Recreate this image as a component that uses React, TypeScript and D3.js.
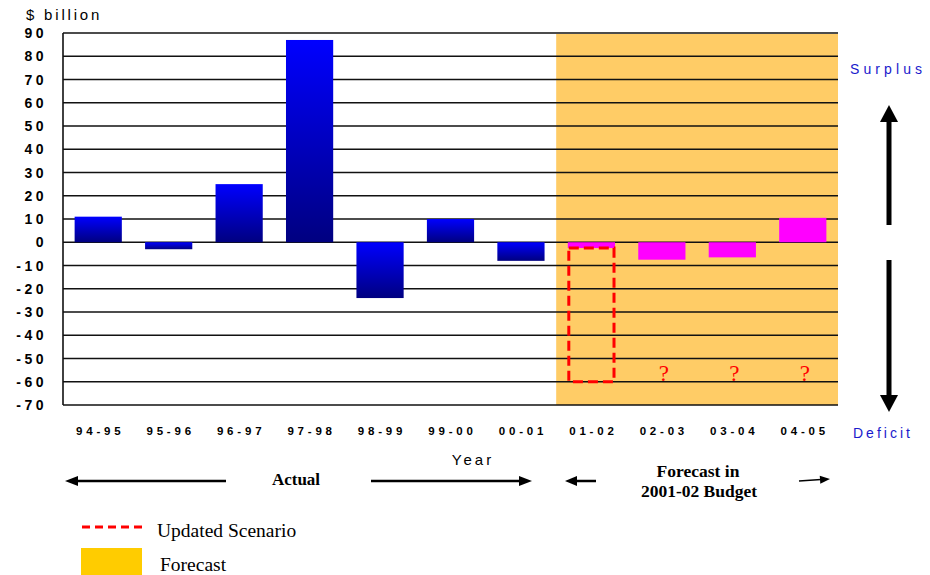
import React from 'react';
import * as d3 from 'd3';

// fiscal years shown on the x axis
const years = ['94-95', '95-96', '96-97', '97-98', '98-99', '99-00', '00-01', '01-02', '02-03', '03-04', '04-05'];
// budget balance, $ billion (actual up to 00-01, forecast afterwards)
const actualValues = [11, -3, 25, 87, -24, 10, -8];
const forecastValues = [-2.5, -7.5, -6.5, 10.5];
const forecastYears = years.slice(7);
// updated scenario for 01-02 (dashed box)
const scenarioYear = '01-02';
const scenarioRange = [-2.5, -60];
const unknownYears = ['02-03', '03-04', '04-05'];
const yTicks = [90, 80, 70, 60, 50, 40, 30, 20, 10, 0, -10, -20, -30, -40, -50, -60, -70];

const W = 930;
const H = 575;
const sans = '"Liberation Sans", Arial, sans-serif';
const serif = '"Liberation Serif", "Times New Roman", serif';

function Arrow({ x1, y1, x2, y2, sw, head, half }: { x1: number; y1: number; x2: number; y2: number; sw: number; head: number; half: number }) {
  // arrow from (x1,y1) pointing to (x2,y2)
  const ang = Math.atan2(y2 - y1, x2 - x1);
  const bx = x2 - head * Math.cos(ang);
  const by = y2 - head * Math.sin(ang);
  const px = -Math.sin(ang) * half;
  const py = Math.cos(ang) * half;
  return (
    <g>
      <line x1={x1} y1={y1} x2={bx + Math.cos(ang)} y2={by + Math.sin(ang)} stroke="#000" strokeWidth={sw} />
      <path d={`M${x2},${y2}L${bx + px},${by + py}L${bx - px},${by - py}Z`} fill="#000" />
    </g>
  );
}

export default function App() {
  const x = d3.scaleBand<string>().domain(years).range([63, 838]).paddingInner(0.33).paddingOuter(0.165);
  const y = d3.scaleLinear().domain([-70, 90]).range([405, 33]);
  const bw = x.bandwidth();

  const actual = years.slice(0, 7).map((yr, i) => ({ yr, v: actualValues[i] }));
  const forecast = forecastYears.map((yr, i) => ({ yr, v: forecastValues[i] }));

  const shadeX = (x(forecastYears[0]) || 0) - x.step() * x.paddingInner() / 2;

  return (
    <svg width={W} height={H} style={{ position: 'absolute', left: 0, top: 0, background: '#fff' }}>
      <defs>
        <linearGradient id="barGrad" x1="0" y1="0" x2="0" y2="1">
          <stop offset="0%" stopColor="#0000ff" />
          <stop offset="100%" stopColor="#000080" />
        </linearGradient>
      </defs>

      {/* forecast shading */}
      <rect x={shadeX} y={y(90) + 1} width={838 - shadeX} height={y(-70) - y(90) - 1} fill="#ffcc66" />

      {/* gridlines */}
      {yTicks.map(t => (
        <line key={t} x1={63} x2={838} y1={y(t)} y2={y(t)} stroke="#111" strokeWidth={1.6} />
      ))}
      <line x1={63} x2={63} y1={y(90)} y2={y(-70)} stroke="#111" strokeWidth={1.6} />

      {/* actual bars */}
      {actual.map(d => (
        <rect key={d.yr} x={x(d.yr)} width={bw} y={y(Math.max(0, d.v))} height={Math.abs(y(d.v) - y(0))} fill="url(#barGrad)" />
      ))}

      {/* forecast bars */}
      {forecast.map(d => (
        <rect key={d.yr} x={x(d.yr)} width={bw} y={y(Math.max(0, d.v))} height={Math.abs(y(d.v) - y(0))} fill="#ff00ff" />
      ))}

      {/* updated scenario dashed box */}
      <rect
        x={(x(scenarioYear) || 0) + 1}
        width={bw - 2}
        y={y(scenarioRange[0])}
        height={y(scenarioRange[1]) - y(scenarioRange[0])}
        fill="none"
        stroke="#ff0000"
        strokeWidth={3}
        strokeDasharray="10,5"
      />

      {/* question marks */}
      {unknownYears.map(yr => (
        <text key={yr} x={(x(yr) || 0) + bw / 2 + 2} y={y(-60) - 1} textAnchor="middle" fontFamily={serif} fontSize={23} fill="#ff0000">?</text>
      ))}

      {/* y tick labels */}
      {yTicks.map(t => (
        <text key={t} x={47} y={y(t) + 5} textAnchor="end" fontFamily={sans} fontWeight="bold" fontSize={14} letterSpacing={3.5} fill="#000">
          {t}
        </text>
      ))}
      <text x={26} y={20} fontFamily={sans} fontSize={15} letterSpacing={2.8} fill="#000">$ billion</text>

      {/* x labels */}
      {years.map(yr => (
        <text key={yr} x={(x(yr) || 0) + bw / 2 + 2} y={435} textAnchor="middle" fontFamily={sans} fontWeight="bold" fontSize={11.5} letterSpacing={3.8} fill="#000">
          {yr}
        </text>
      ))}
      <text x={473} y={465} textAnchor="middle" fontFamily={sans} fontSize={15} letterSpacing={3} fill="#000">Year</text>

      {/* Actual */}
      <Arrow x1={226} y1={481} x2={65} y2={481} sw={2.5} head={13} half={5} />
      <Arrow x1={371} y1={481} x2={532} y2={481} sw={2.5} head={13} half={5} />
      <text x={296} y={485} textAnchor="middle" fontFamily={serif} fontWeight="bold" fontSize={17} fill="#000">Actual</text>

      {/* Forecast in budget */}
      <Arrow x1={596} y1={481} x2={565} y2={481} sw={2.5} head={12} half={5} />
      <Arrow x1={799} y1={481} x2={830} y2={479} sw={1.5} head={10} half={4} />
      <text x={698} y={477} textAnchor="middle" fontFamily={serif} fontWeight="bold" fontSize={17.5} fill="#000">Forecast in</text>
      <text x={699} y={497} textAnchor="middle" fontFamily={serif} fontWeight="bold" fontSize={17.5} fill="#000">2001-02 Budget</text>

      {/* surplus / deficit */}
      <text x={850} y={74} fontFamily={sans} fontSize={14} letterSpacing={4.1} fill="#1a1acc">Surplus</text>
      <Arrow x1={889} y1={225} x2={889} y2={105} sw={5} head={17} half={9} />
      <Arrow x1={889} y1={260} x2={889} y2={412} sw={5} head={17} half={9} />
      <text x={853} y={438} fontFamily={sans} fontSize={14} letterSpacing={3} fill="#1a1acc">Deficit</text>

      {/* legend */}
      <line x1={82} x2={142} y1={527} y2={527} stroke="#ff0000" strokeWidth={3} strokeDasharray="8,5" />
      <text x={157} y={537} fontFamily={serif} fontSize={19.5} fill="#000">Updated Scenario</text>
      <rect x={81} y={548} width={61} height={27} fill="#ffcc00" />
      <text x={160} y={571} fontFamily={serif} fontSize={19.5} fill="#000">Forecast</text>
    </svg>
  );
}
